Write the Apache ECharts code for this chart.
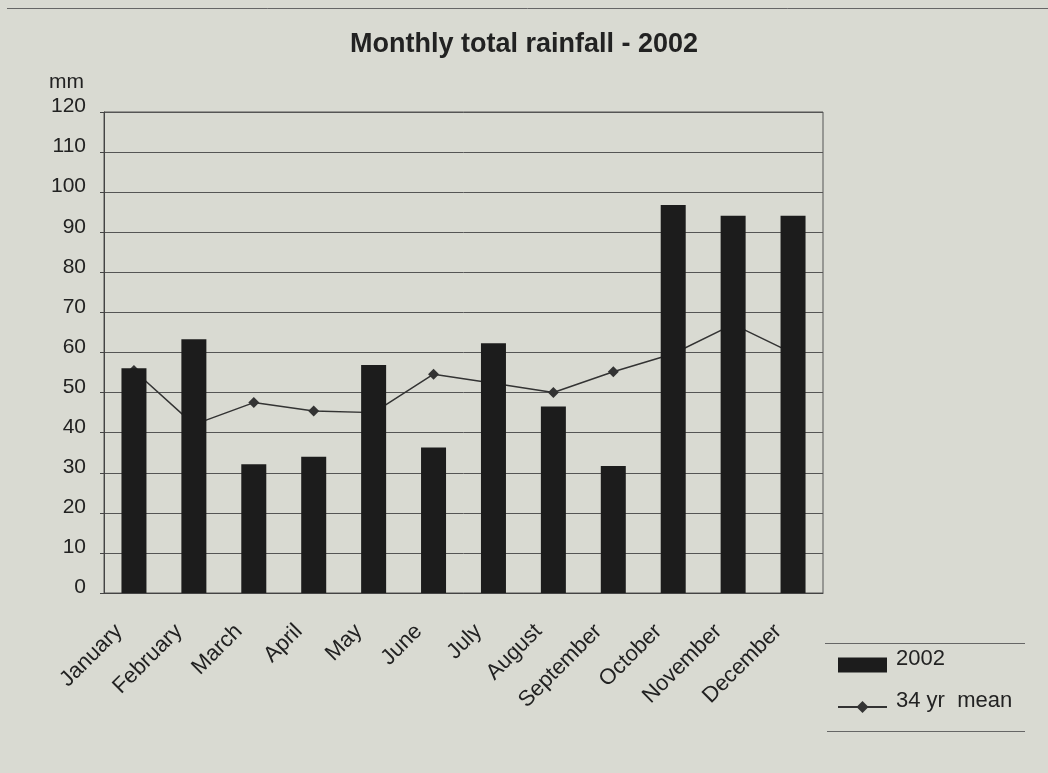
<!DOCTYPE html>
<html>
<head>
<meta charset="utf-8">
<title>Monthly total rainfall - 2002</title>
<script src="https://cdn.jsdelivr.net/npm/echarts@6/dist/echarts.min.js"></script>
<style>
  html, body { margin: 0; padding: 0; background: #d9dad2; }
  #chart { width: 1048px; height: 773px; }
</style>
</head>
<body>
<div id="chart"></div>
<script>
// Months along the category axis
const months = ['January', 'February', 'March', 'April', 'May', 'June',
  'July', 'August', 'September', 'October', 'November', 'December'];

// Monthly rainfall totals for 2002 (mm)
const rain2002 = [56.1, 63.3, 32.1, 34.0, 56.9, 36.3, 62.3, 46.5, 31.7, 96.8, 94.1, 94.1];

// Long-term (34 year) monthly mean rainfall (mm)
const mean34yr = [55.5, 42.0, 47.5, 45.4, 45.0, 54.6, 52.3, 50.0, 55.2, 59.7, 67.0, 59.8];

// Value axis range and step
const yMin = 0, yMax = 120, yStep = 10;

const seriesNames = ['2002', '34 yr  mean'];

const ink = '#222222';
const gridInk = '#555555';
const font = 'Liberation Sans, Arial, Helvetica, sans-serif';

const chart = echarts.init(document.getElementById('chart'), null, { renderer: 'canvas' });

chart.setOption({
  backgroundColor: '#d9dad2',
  animation: false,
  title: {
    text: 'Monthly total rainfall - 2002',
    left: 'center',
    top: 26,
    textStyle: { fontFamily: font, fontSize: 27, fontWeight: 'bold', color: ink }
  },
  grid: {
    left: 104, right: 225, top: 112, bottom: 180,
    show: true, borderColor: gridInk, borderWidth: 1,
    backgroundColor: 'transparent'
  },
  legend: {
    orient: 'vertical',
    left: 837,
    top: 648,
    padding: 0,
    itemWidth: 49,
    itemHeight: 15,
    itemGap: 8,
    formatter: '{t|{name}}',
    textStyle: {
      rich: {
        t: { fontFamily: font, fontSize: 22, color: ink, lineHeight: 22, padding: [0, 0, 12, 4] }
      }
    },
    data: [
      { name: seriesNames[0], icon: 'rect' },
      { name: seriesNames[1] }
    ]
  },
  xAxis: {
    type: 'category',
    data: months,
    boundaryGap: true,
    axisLine: { show: true, lineStyle: { color: '#444', width: 1 } },
    axisTick: { show: false },
    axisLabel: {
      interval: 0, rotate: 45, margin: 30,
      align: 'right', verticalAlign: 'bottom', lineHeight: 14,
      padding: [0, 14, 0, 0],
      fontFamily: font, fontSize: 22, color: ink
    },
    splitLine: { show: false }
  },
  yAxis: {
    type: 'value',
    min: yMin, max: yMax, interval: yStep,
    name: 'mm',
    nameLocation: 'end',
    nameGap: 30,
    nameTextStyle: { fontFamily: font, fontSize: 21, color: ink, align: 'right', verticalAlign: 'middle', padding: [0, 20, 0, 0] },
    axisLine: { show: true, lineStyle: { color: '#444', width: 1 } },
    axisTick: { show: true, length: 4, lineStyle: { color: '#444' } },
    axisLabel: { fontFamily: font, fontSize: 21, color: ink, margin: 18, verticalAlign: 'bottom', lineHeight: 11 },
    splitLine: { show: true, lineStyle: { color: gridInk, width: 1 } }
  },
  graphic: [
    { type: 'line', shape: { x1: 7, y1: 8.5, x2: 1048, y2: 8.5 }, style: { stroke: '#666', lineWidth: 1 }, silent: true },
    { type: 'line', shape: { x1: 825, y1: 643.5, x2: 1025, y2: 643.5 }, style: { stroke: '#666', lineWidth: 1 }, silent: true },
    { type: 'line', shape: { x1: 827, y1: 731.5, x2: 1025, y2: 731.5 }, style: { stroke: '#666', lineWidth: 1 }, silent: true }
  ],
  series: [
    {
      name: seriesNames[1],
      type: 'line',
      data: mean34yr,
      z: 2,
      symbol: 'diamond',
      symbolSize: 11,
      showAllSymbol: true,
      lineStyle: { color: '#333', width: 1.5 },
      itemStyle: { color: '#333' }
    },
    {
      name: seriesNames[0],
      type: 'bar',
      data: rain2002,
      z: 3,
      barWidth: 25,
      itemStyle: { color: '#1c1c1c' }
    }
  ]
});
</script>
</body>
</html>
